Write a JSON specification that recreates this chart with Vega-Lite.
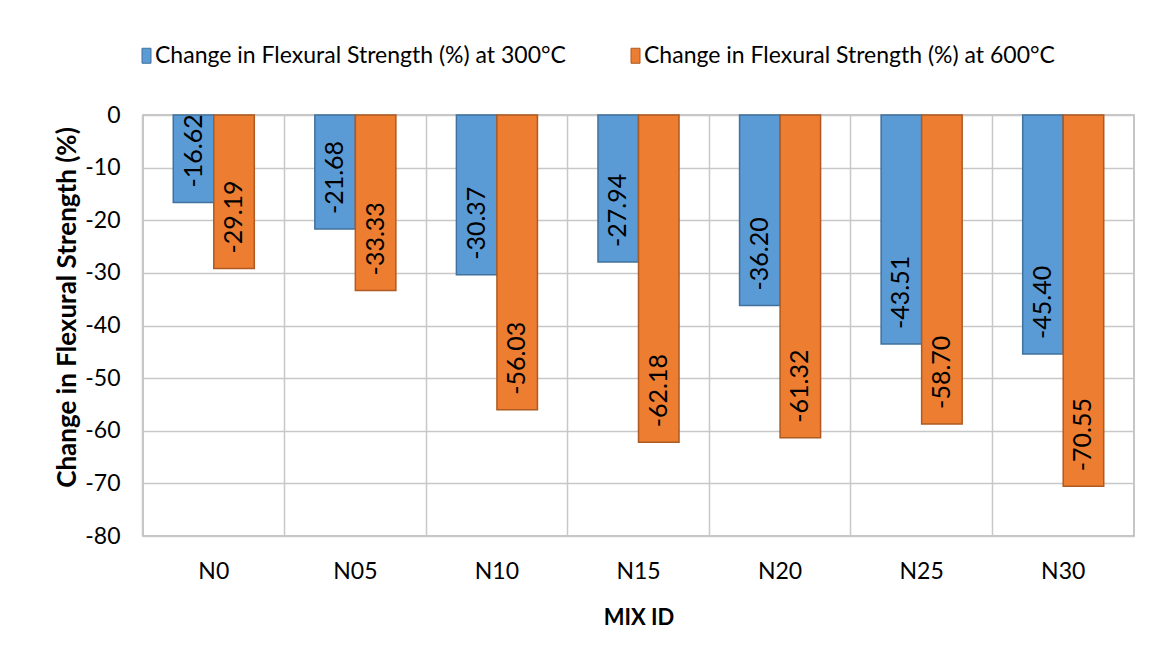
{
  "$schema": "https://vega.github.io/schema/vega-lite/v6.json",
  "width": 991,
  "height": 421,
  "autosize": {"type": "none"},
  "padding": {"left": 143, "top": 115, "right": 21, "bottom": 127},
  "background": "white",
  "config": {
    "font": "Lato",
    "locale": {"number": {"decimal": ".", "thousands": ",", "grouping": [3], "currency": ["$", ""], "minus": "-"}},
    "view": {"stroke": "#b4b4b4", "strokeWidth": 1.5}
  },
  "data": {
    "values": [
      {"mix": "N0", "series": "Change in Flexural Strength (%) at 300°C", "value": -16.62},
      {"mix": "N0", "series": "Change in Flexural Strength (%) at 600°C", "value": -29.19},
      {"mix": "N05", "series": "Change in Flexural Strength (%) at 300°C", "value": -21.68},
      {"mix": "N05", "series": "Change in Flexural Strength (%) at 600°C", "value": -33.33},
      {"mix": "N10", "series": "Change in Flexural Strength (%) at 300°C", "value": -30.37},
      {"mix": "N10", "series": "Change in Flexural Strength (%) at 600°C", "value": -56.03},
      {"mix": "N15", "series": "Change in Flexural Strength (%) at 300°C", "value": -27.94},
      {"mix": "N15", "series": "Change in Flexural Strength (%) at 600°C", "value": -62.18},
      {"mix": "N20", "series": "Change in Flexural Strength (%) at 300°C", "value": -36.20},
      {"mix": "N20", "series": "Change in Flexural Strength (%) at 600°C", "value": -61.32},
      {"mix": "N25", "series": "Change in Flexural Strength (%) at 300°C", "value": -43.51},
      {"mix": "N25", "series": "Change in Flexural Strength (%) at 600°C", "value": -58.70},
      {"mix": "N30", "series": "Change in Flexural Strength (%) at 300°C", "value": -45.40},
      {"mix": "N30", "series": "Change in Flexural Strength (%) at 600°C", "value": -70.55}
    ]
  },
  "encoding": {
    "x": {
      "field": "mix",
      "type": "nominal",
      "sort": null,
      "scale": {"paddingInner": 0, "paddingOuter": 0},
      "axis": {
        "title": "MIX ID",
        "titleFontSize": 22,
        "titleFontWeight": "bold",
        "titleColor": "#000000",
        "titleBaseline": "middle",
        "titleY": 81,
        "labelAngle": 0,
        "labelFontSize": 23,
        "labelColor": "#000000",
        "labelPadding": 24,
        "ticks": false,
        "tickSize": 0,
        "domain": false,
        "grid": true,
        "bandPosition": 0,
        "gridColor": "#c8c8c8",
        "gridWidth": 1.5
      }
    },
    "xOffset": {
      "field": "series",
      "type": "nominal",
      "scale": {"paddingInner": 0, "paddingOuter": 0.747}
    },
    "y": {
      "field": "value",
      "type": "quantitative",
      "scale": {"domain": [-80, 0], "nice": false},
      "axis": {
        "title": "Change in Flexural Strength (%)",
        "values": [-80, -70, -60, -50, -40, -30, -20, -10, 0],
        "titleFontSize": 26,
        "titleFontWeight": "bold",
        "titleColor": "#000000",
        "titleAngle": 270,
        "titleAlign": "center",
        "titleBaseline": "middle",
        "titleX": -76,
        "titleY": 192,
        "labelFontSize": 23,
        "labelColor": "#000000",
        "labelPadding": 23,
        "ticks": false,
        "tickSize": 0,
        "domain": false,
        "grid": true,
        "gridColor": "#c8c8c8",
        "gridWidth": 1.5
      }
    }
  },
  "layer": [
    {
      "mark": {"type": "bar", "strokeWidth": 1.5, "opacity": 1},
      "encoding": {
        "fill": {
          "field": "series",
          "type": "nominal",
          "scale": {"range": ["#5b9bd5", "#ed7d31"]},
          "legend": {
            "title": null,
            "orient": "none",
            "legendX": -8,
            "legendY": -71,
            "direction": "horizontal",
            "labelFontSize": 23,
            "labelColor": "#000000",
            "labelLimit": 700,
            "labelOffset": -3,
            "columnPadding": 58,
            "symbolType": "M-0.6,-1H0.6V1H-0.6Z",
            "symbolSize": 225,
            "symbolStrokeWidth": 1
          }
        },
        "stroke": {
          "field": "series",
          "type": "nominal",
          "scale": {"range": ["#41719c", "#ae5a21"]},
          "legend": {
            "title": null,
            "orient": "none",
            "legendX": -8,
            "legendY": -71,
            "direction": "horizontal",
            "labelFontSize": 23,
            "labelColor": "#000000",
            "labelLimit": 700,
            "labelOffset": -3,
            "columnPadding": 58,
            "symbolType": "M-0.6,-1H0.6V1H-0.6Z",
            "symbolSize": 225,
            "symbolStrokeWidth": 1
          }
        }
      }
    },
    {
      "mark": {"type": "text", "angle": 270, "align": "left", "baseline": "middle", "dx": 15, "fontSize": 25, "color": "#000000"},
      "encoding": {
        "text": {"field": "value", "type": "quantitative", "format": ".2f"}
      }
    }
  ]
}
